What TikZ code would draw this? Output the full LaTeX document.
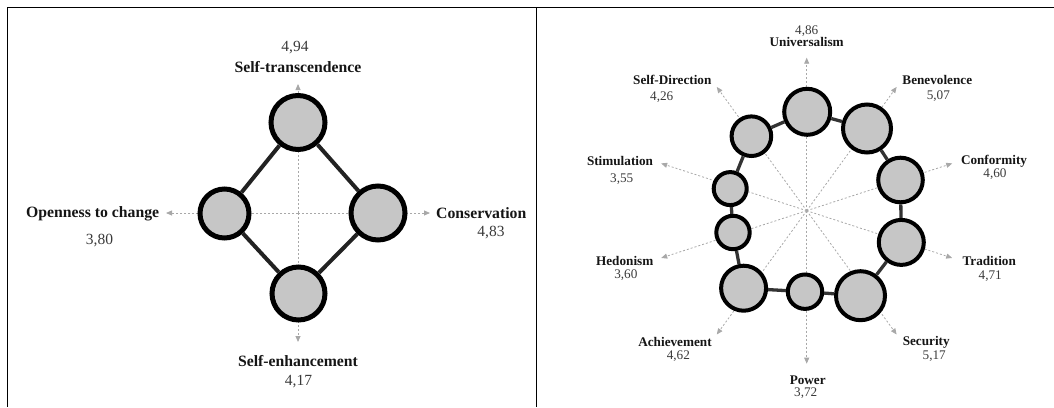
\documentclass[tikz,border=0pt]{standalone}
\usepackage{fontspec}
\setmainfont{Liberation Serif}
\usetikzlibrary{arrows.meta,calc}
\definecolor{ringfill}{HTML}{C6C6C6}
\definecolor{axisgray}{HTML}{A8A8A8}
\definecolor{linkdark}{HTML}{222222}
\definecolor{linkmid}{HTML}{333333}
\definecolor{labelink}{HTML}{151515}
\definecolor{valueink}{HTML}{3A3A3A}
\begin{document}
\begin{tikzpicture}[x=1pt,y=-1pt,
  frame/.style={draw=black,line width=1.4pt},
  axis/.style={draw=axisgray,line width=0.8pt,dash pattern=on 2pt off 2pt,
    -{Triangle[length=6pt,width=5pt]}},
  bigring/.style={circle,draw=black,fill=ringfill,line width=5pt,inner sep=0pt,minimum size=#1},
  smallring/.style={circle,draw=black,fill=ringfill,line width=4pt,inner sep=0pt,minimum size=#1},
  biglink/.style={draw=linkdark,line width=4pt},
  smalllink/.style={draw=linkmid,line width=3.3pt},
  biglabel/.style={inner sep=0pt,text=labelink,font=\fontsize{15.75}{18}\selectfont\bfseries},
  bigvalue/.style={inner sep=0pt,text=valueink,font=\fontsize{15.5}{18}\selectfont},
  smalllabel/.style={inner sep=0pt,text=labelink,font=\fontsize{13.2}{15}\selectfont\bfseries},
  smallvalue/.style={inner sep=0pt,text=valueink,font=\fontsize{13.2}{15}\selectfont}
]
\useasboundingbox (0,0) rectangle (1054,407);

% table rules
\coordinate (tl) at (7,7.5);
\coordinate (tr) at (1054,7.5);
\coordinate (bl) at (7.5,407);
\coordinate (dt) at (536.5,7.5);
\coordinate (db) at (536.5,407);
\draw[frame] (tl) -- (tr);
\draw[frame] (7.5,7) -- (bl);
\draw[frame] (dt) -- (db);

% ---------- higher-order values ----------
\coordinate (lc) at (298,213);
\coordinate (ltipN) at (298,84);
\coordinate (ltipS) at (298,342);
\coordinate (ltipW) at (166,213);
\coordinate (ltipE) at (430,213);
\foreach \t in {N,S,W,E} \draw[axis] (lc) -- (ltip\t);

\node[bigring=54pt] (st) at (298,122.5) {};
\node[bigring=54pt] (co) at (378,213) {};
\node[bigring=53pt] (se) at (298.5,293.5) {};
\node[bigring=49pt] (oc) at (224.5,213.5) {};

\draw[biglink] (st) -- (co);
\draw[biglink] (co) -- (se);
\draw[biglink] (se) -- (oc);
\draw[biglink] (oc) -- (st);

\node[bigvalue] (stv) at (295,48) {4,94};
\node[biglabel] (stl) at (298,67) {Self-transcendence};
\node[biglabel] (ocl) at (92.7,213.3) {Openness to change};
\node[bigvalue] (ocv) at (99.5,241) {3,80};
\node[biglabel] (col) at (481.3,213.3) {Conservation};
\node[bigvalue] (cov) at (491,233) {4,83};
\node[biglabel] (sel) at (298,361) {Self-enhancement};
\node[bigvalue] (sev) at (298.5,382) {4,17};

% ---------- basic values ----------
\coordinate (rc) at (806.7,210.7);
\foreach \a/\n in {90/un,54/be,18/cf,-18/tr,-54/sc,-90/pw,-126/ac,-162/hd,162/sm,126/sd}
  \coordinate (tip\n) at ($(rc)+(\a:153)$);
\foreach \n in {un,be,cf,tr,sc,pw,ac,hd,sm,sd} \draw[axis] (rc) -- (tip\n);

\node[smallring=46pt] (un) at (807.2,111.8) {};
\node[smallring=48pt] (be) at (867,128.5) {};
\node[smallring=44.6pt] (cf) at (900.5,180) {};
\node[smallring=45pt] (tr) at (901.3,242.4) {};
\node[smallring=49pt] (sc) at (860.5,295.7) {};
\node[smallring=34.4pt] (pw) at (805,291.7) {};
\node[smallring=45pt] (ac) at (743.6,288.2) {};
\node[smallring=33.4pt] (hd) at (733,232.5) {};
\node[smallring=33pt] (sm) at (730.2,188.6) {};
\node[smallring=39.6pt] (sd) at (751.4,136.2) {};

\foreach \a/\b in {un/be,be/cf,cf/tr,tr/sc,sc/pw,pw/ac,ac/hd,hd/sm,sm/sd,sd/un}
  \draw[smalllink] (\a) -- (\b);

\node[smallvalue] (unv) at (806.7,30.7) {4,86};
\node[smalllabel] (unl) at (806.7,41.7) {Universalism};
\node[smalllabel] (sdl) at (672.3,80) {Self-Direction};
\node[smallvalue] (sdv) at (661.7,97.3) {4,26};
\node[smalllabel] (bel) at (937.3,80) {Benevolence};
\node[smallvalue] (bev) at (938.3,95.7) {5,07};
\node[smalllabel] (sml) at (620,161) {Stimulation};
\node[smallvalue] (smv) at (621.7,179) {3,55};
\node[smalllabel] (cfl) at (994,161) {Conformity};
\node[smallvalue] (cfv) at (995,174) {4,60};
\node[smalllabel] (hdl) at (624.7,260.7) {Hedonism};
\node[smallvalue] (hdv) at (625.8,275) {3,60};
\node[smalllabel] (trl) at (989.2,261) {Tradition};
\node[smallvalue] (trv) at (990.2,276) {4,71};
\node[smalllabel] (acl) at (675,342.3) {Achievement};
\node[smallvalue] (acv) at (678.3,355.7) {4,62};
\node[smalllabel] (scl) at (926.2,342) {Security};
\node[smallvalue] (scv) at (934.2,356.2) {5,17};
\node[smalllabel] (pwl) at (807.7,380) {Power};
\node[smallvalue] (pwv) at (805.7,393.3) {3,72};
\end{tikzpicture}
\end{document}
